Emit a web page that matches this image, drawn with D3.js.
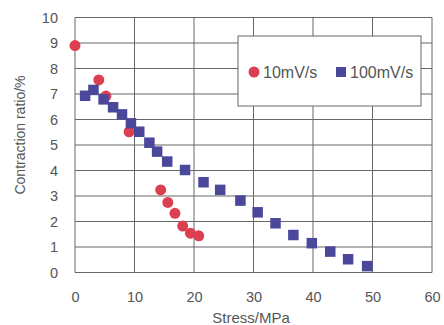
<!DOCTYPE html>
<html>
<head>
<meta charset="utf-8">
<script src="https://cdn.jsdelivr.net/npm/d3@7"></script>
<style>
  body { margin: 0; background: #fff; }
  svg { font-family: "Liberation Sans", Arial, sans-serif; }
</style>
</head>
<body>
<svg id="chart"></svg>
<script>
// 10mV/s series (red circles)
var slowStress = [0, 4.0, 5.2, 9.1, 14.4, 15.6, 16.8, 18.1, 19.4, 20.8];
var slowRatio  = [8.9, 7.55, 6.92, 5.52, 3.24, 2.75, 2.32, 1.82, 1.54, 1.44];

// 100mV/s series (blue squares)
var fastStress = [1.7, 3.1, 4.8, 6.4, 7.9, 9.4, 10.8, 12.5, 13.8, 15.5, 18.5, 21.6, 24.4,
                  27.8, 30.7, 33.7, 36.7, 39.8, 42.9, 45.9, 49.1];
var fastRatio  = [6.93, 7.16, 6.79, 6.48, 6.2, 5.85, 5.52, 5.09, 4.74, 4.35, 4.02, 3.54, 3.24,
                  2.82, 2.36, 1.93, 1.47, 1.15, 0.82, 0.52, 0.25];

var xTicks = [0, 10, 20, 30, 40, 50, 60];
var yTicks = [0, 1, 2, 3, 4, 5, 6, 7, 8, 9, 10];
var legendLabels = ["10mV/s", "100mV/s"];

var width = 444, height = 325;
var margin = {top: 17.5, right: 12, bottom: 52.5, left: 75};
var w = width - margin.left - margin.right;
var h = height - margin.top - margin.bottom;

var red = "#dc4050", blue = "#4b479a", ink = "#555", grid = "#666";

var svg = d3.select("#chart")
    .attr("width", width)
    .attr("height", height);

var g = svg.append("g")
    .attr("transform", "translate(" + margin.left + "," + margin.top + ")");

var x = d3.scaleLinear().domain([0, 60]).range([0, w]);
var y = d3.scaleLinear().domain([0, 10]).range([h, 0]);

// grid
g.append("g")
  .selectAll("line")
  .data(xTicks)
  .join("line")
    .attr("x1", d => x(d)).attr("x2", d => x(d))
    .attr("y1", 0).attr("y2", h)
    .attr("stroke", grid).attr("stroke-width", 1);

g.append("g")
  .selectAll("line")
  .data(yTicks)
  .join("line")
    .attr("x1", 0).attr("x2", w)
    .attr("y1", d => y(d)).attr("y2", d => y(d))
    .attr("stroke", grid).attr("stroke-width", 1);

// axes (labels only)
var xAxis = g.append("g")
    .attr("transform", "translate(0," + h + ")")
    .call(d3.axisBottom(x).tickValues(xTicks).tickSize(0).tickPadding(19));
xAxis.select(".domain").remove();
xAxis.selectAll("text").attr("fill", ink).style("font-size", "14.5px");

var yAxis = g.append("g")
    .call(d3.axisLeft(y).tickValues(yTicks).tickSize(0).tickPadding(17));
yAxis.select(".domain").remove();
yAxis.selectAll("text").attr("fill", ink).style("font-size", "14.5px");

// data
var slow = slowStress.map((s, i) => [s, slowRatio[i]]);
var fast = fastStress.map((s, i) => [s, fastRatio[i]]);

g.append("g")
  .selectAll("circle")
  .data(slow)
  .join("circle")
    .attr("cx", d => x(d[0]))
    .attr("cy", d => y(d[1]))
    .attr("r", 5.5)
    .attr("fill", red);

var sq = 10.5;
g.append("g")
  .selectAll("rect")
  .data(fast)
  .join("rect")
    .attr("x", d => x(d[0]) - sq / 2)
    .attr("y", d => y(d[1]) - sq / 2)
    .attr("width", sq)
    .attr("height", sq)
    .attr("fill", blue);

// legend
var legend = svg.append("g");
legend.append("rect")
    .attr("x", 238).attr("y", 36)
    .attr("width", 183).attr("height", 70)
    .attr("fill", "#fff")
    .attr("stroke", grid).attr("stroke-width", 1);
legend.append("circle")
    .attr("cx", 254).attr("cy", 72).attr("r", 5.5)
    .attr("fill", red);
legend.append("text")
    .attr("x", 263).attr("y", 78)
    .attr("fill", ink).style("font-size", "16px")
    .text(legendLabels[0]);
legend.append("rect")
    .attr("x", 336).attr("y", 67).attr("width", 10).attr("height", 10)
    .attr("fill", blue);
legend.append("text")
    .attr("x", 350).attr("y", 78)
    .attr("fill", ink).style("font-size", "16px")
    .text(legendLabels[1]);

// axis titles
svg.append("text")
    .attr("text-anchor", "middle")
    .attr("x", 251)
    .attr("y", 323)
    .attr("fill", ink)
    .style("font-size", "15px")
    .text("Stress/MPa");

svg.append("text")
    .attr("text-anchor", "middle")
    .attr("transform", "rotate(-90)")
    .attr("x", -135)
    .attr("y", 25)
    .attr("fill", ink)
    .style("font-size", "14px")
    .text("Contraction ratio/%");
</script>
</body>
</html>
